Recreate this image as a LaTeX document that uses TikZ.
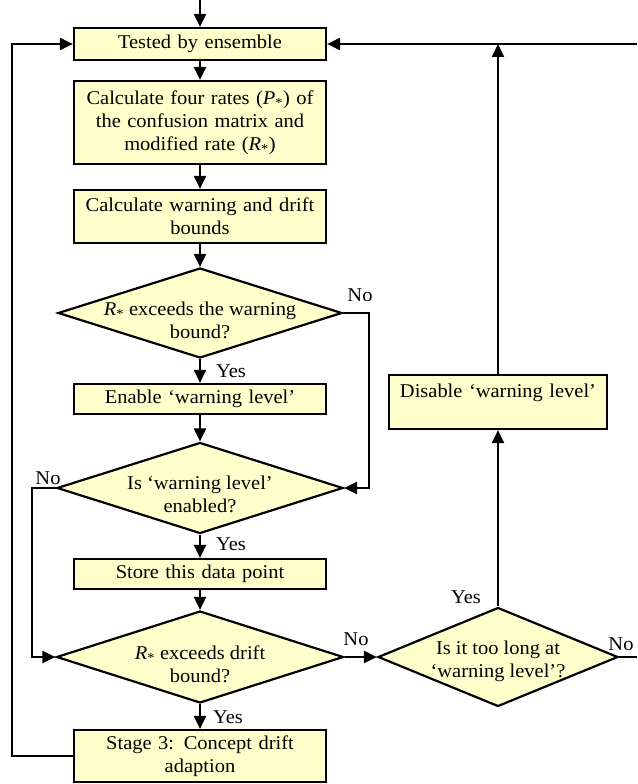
\documentclass[tikz,border=0pt]{standalone}
\usepackage{fontspec}
\setmainfont{Liberation Serif}[FakeStretch=1.05]
\usetikzlibrary{arrows.meta,shapes.geometric}
\definecolor{boxfill}{RGB}{255,255,204}
\begin{document}
\begin{tikzpicture}[x=1pt,y=-1pt,
  every node/.style={font=\fontsize{19.5}{23}\selectfont},
  box/.style={draw, line width=2.2pt, fill=boxfill, minimum width=252pt, inner sep=0pt, text width=250pt, align=center},
  dia/.style={draw, line width=2.2pt, fill=boxfill, diamond, inner sep=0pt},
  dtext/.style={align=center, inner sep=0pt},
  lbl/.style={inner sep=0pt},
  conn/.style={line width=2.2pt, -{Triangle[length=13pt,width=12pt]}},
  plainline/.style={line width=2.2pt}
]
\useasboundingbox (0,0) rectangle (637,784);

\node[box, minimum height=32pt] (b1) at (200,44) {Tested by ensemble};
\node[box, minimum height=83pt] (b2) at (200,122.5) {Calculate four rates (\textit{P}\textsubscript{*}) of\\ the confusion matrix and\\ modified rate (\textit{R}\textsubscript{*})};
\node[box, minimum height=53pt] (b3) at (200,216.5) {Calculate warning and drift\\ bounds};
\node[dia, minimum width=284pt, minimum height=90pt] (d1) at (200,313) {};
\node[dtext] (d1t) at (200,320) {\textit{R}\textsubscript{*} exceeds the warning\\ bound?};
\node[box, minimum height=30pt] (b4) at (200,399) {Enable ‘warning level’};
\node[dia, minimum width=286pt, minimum height=91pt] (d2) at (200,488) {};
\node[dtext] (d2t) at (200,494) {Is ‘warning level’\\ enabled?};
\node[box, minimum height=30pt] (b5) at (200,574) {Store this data point};
\node[dia, minimum width=287pt, minimum height=92pt] (d3) at (200,657) {};
\node[dtext] (d3t) at (200,664) {\textit{R}\textsubscript{*} exceeds drift\\ bound?};
\node[box, minimum height=52pt] (b6) at (200,756) {Stage 3: Concept drift\\ adaption};
\node[dia, minimum width=240pt, minimum height=99pt] (d4) at (498,657) {};
\node[dtext] (d4t) at (498,661) {Is it too long at\\ ‘warning level’?};
\node[box, minimum width=218pt, text width=216pt, minimum height=54pt] (b7) at (498,402) {Disable ‘warning level’\\ \mbox{}};

\coordinate (top) at (200,0);
\coordinate (redge1) at (637,44);
\coordinate (redge2) at (637,657);
\coordinate (j) at (b7.north |- b1.east);

\draw[conn] (top) -- (b1);
\draw[conn] (b1) -- (b2);
\draw[conn] (b2) -- (b3);
\draw[conn] (b3) -- (d1);
\draw[conn] (d1) -- (b4);
\draw[conn] (b4) -- (d2);
\draw[conn] (d2) -- (b5);
\draw[conn] (b5) -- (d3);
\draw[conn] (d3) -- (b6);
\draw[conn] (d3) -- (d4);
\draw[conn] (d4) -- (b7);
\draw[conn] (b7) -- (j);
\draw[conn] (redge1) -- (b1);
\draw[plainline] (d4.east) -- (redge2);
\draw[conn] (d1.east) -- ++(26,0) |- (d2.east);
\draw[conn] (d2.west) -- ++(-24,0) |- (d3.west);
\draw[conn] (b6.west) -- ++(-61,0) |- (b1.west);

\node[lbl] (no1) at (360,295) {No};
\node[lbl] (yes1) at (231,371) {Yes};
\node[lbl] (no2) at (48,478) {No};
\node[lbl] (yes2) at (231,544) {Yes};
\node[lbl] (no3) at (356,639) {No};
\node[lbl] (yes3) at (228,717) {Yes};
\node[lbl] (yes4) at (466,597) {Yes};
\node[lbl] (no4) at (621,644) {No};
\end{tikzpicture}
\end{document}
